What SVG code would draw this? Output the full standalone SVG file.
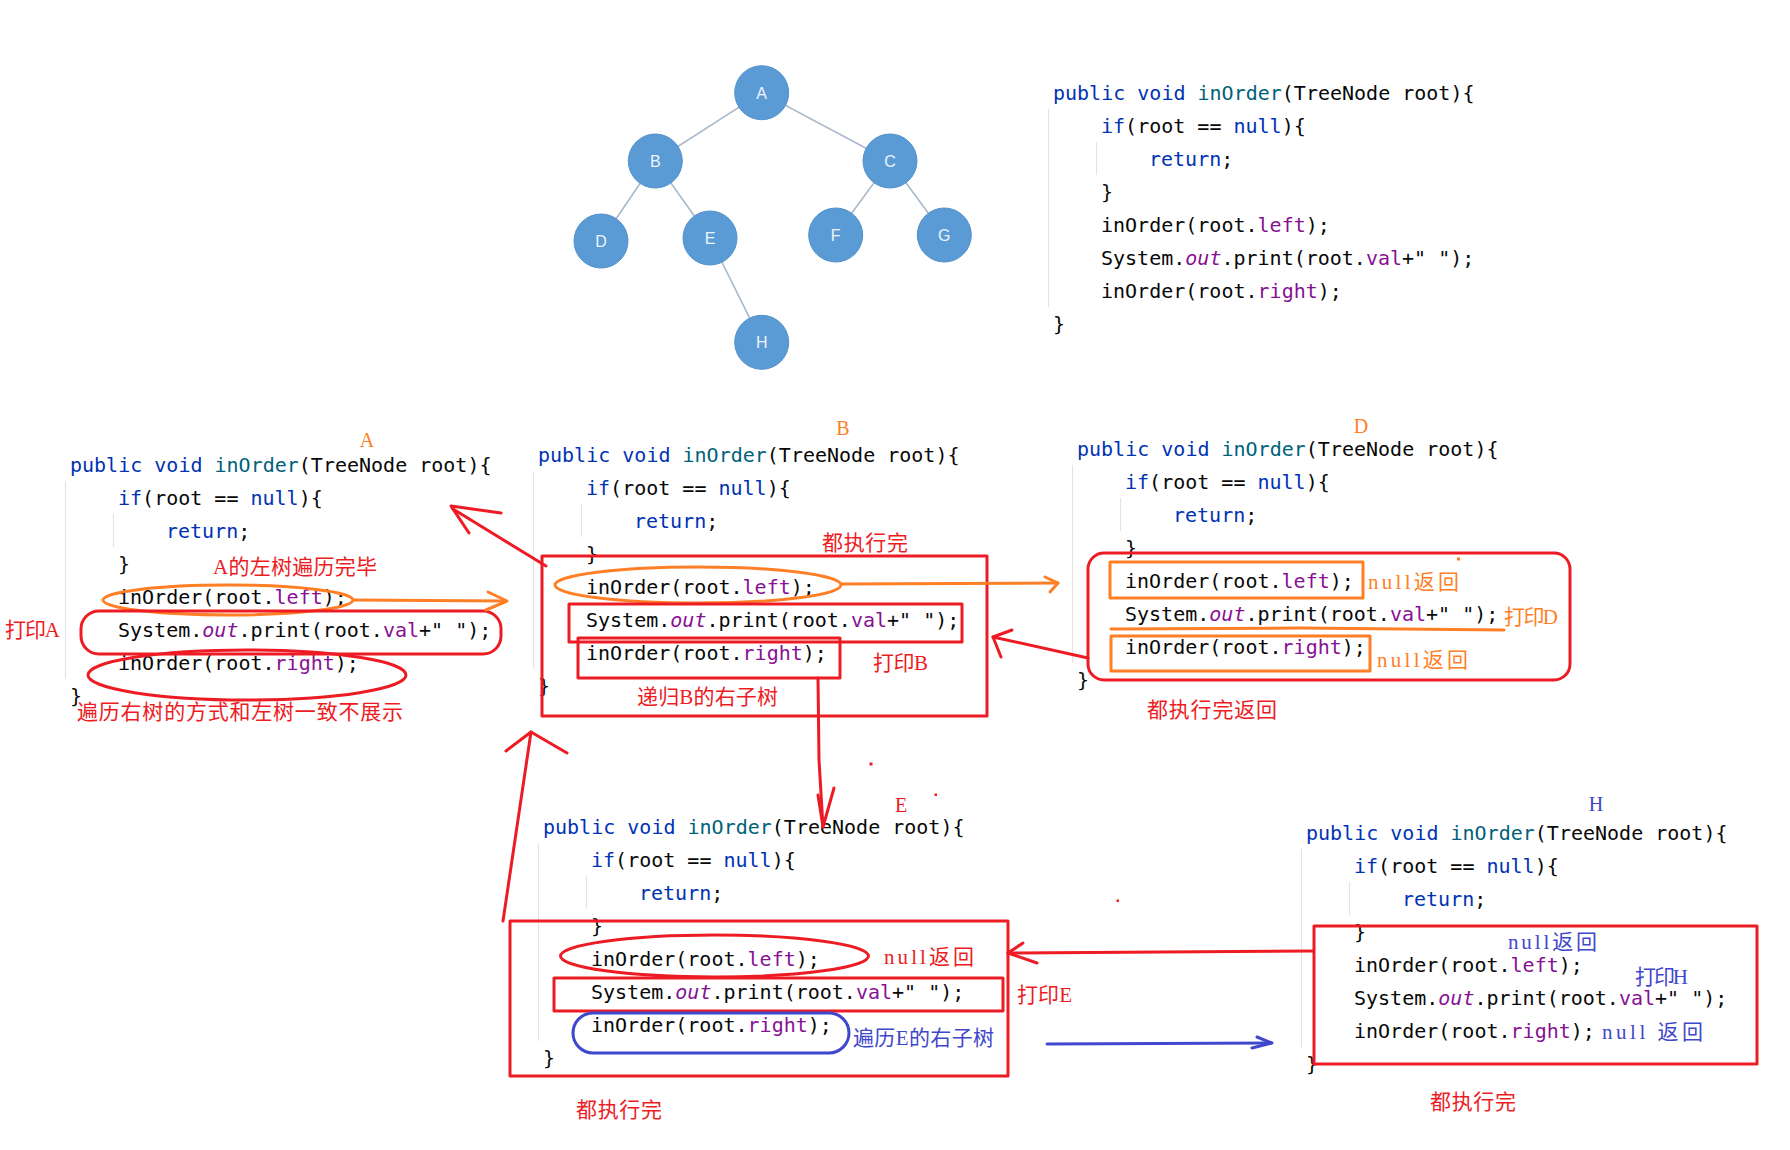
<svg xmlns="http://www.w3.org/2000/svg" width="1790" height="1150" viewBox="0 0 1790 1150">
<style>
.code{font-family:"DejaVu Sans Mono","Liberation Mono",monospace;font-size:20px;fill:#080808}
.kw{fill:#0033B3}.fn{fill:#00627A}.fd{fill:#871094}.it{font-style:italic}
.guide{stroke:#E3E3E3;stroke-width:1.2}
.ann{font-family:"Liberation Serif","Noto Sans CJK SC",serif;font-size:21px}
.lbl{font-family:"Liberation Serif",serif;font-size:20px;text-anchor:middle}
.red{fill:#ED1C24}.org{fill:#FF7F27}.blu{fill:#3F48CC}
.sred{fill:none;stroke:#ED1C24;stroke-width:3;stroke-linecap:round;stroke-linejoin:round}
.sorg{fill:none;stroke:#FF7F27;stroke-width:3;stroke-linecap:round;stroke-linejoin:round}
.sblu{fill:none;stroke:#3F48CC;stroke-width:3;stroke-linecap:round;stroke-linejoin:round}
.node circle{fill:#5B9BD5;stroke:#5290CA;stroke-width:1}
.node text{font-family:"Liberation Sans",sans-serif;font-size:16px;fill:#EEF4FB;text-anchor:middle}
.edge{stroke:#A8B9CB;stroke-width:1.6}
</style>
<rect width="1790" height="1150" fill="#FFFFFF"/>

<!-- tree -->
<g id="tree-edges">
<line class="edge" x1="761.7" y1="92.7" x2="655.3" y2="161"/>
<line class="edge" x1="761.7" y1="92.7" x2="890" y2="161"/>
<line class="edge" x1="655.3" y1="161" x2="601" y2="241"/>
<line class="edge" x1="655.3" y1="161" x2="710" y2="238"/>
<line class="edge" x1="890" y1="161" x2="835.7" y2="235"/>
<line class="edge" x1="890" y1="161" x2="944.3" y2="235"/>
<line class="edge" x1="710" y1="238" x2="761.7" y2="342.3"/>
</g>
<g id="tree-A" class="node"><circle cx="761.7" cy="92.7" r="27"/><text x="761.7" y="98.5">A</text></g>
<g id="tree-B" class="node"><circle cx="655.3" cy="161" r="27"/><text x="655.3" y="166.8">B</text></g>
<g id="tree-C" class="node"><circle cx="890" cy="161" r="27"/><text x="890" y="166.8">C</text></g>
<g id="tree-D" class="node"><circle cx="601" cy="241" r="27"/><text x="601" y="246.8">D</text></g>
<g id="tree-E" class="node"><circle cx="710" cy="238" r="27"/><text x="710" y="243.8">E</text></g>
<g id="tree-F" class="node"><circle cx="835.7" cy="235" r="27"/><text x="835.7" y="240.8">F</text></g>
<g id="tree-G" class="node"><circle cx="944.3" cy="235" r="27"/><text x="944.3" y="240.8">G</text></g>
<g id="tree-H" class="node"><circle cx="761.7" cy="342.3" r="27"/><text x="761.7" y="348.1">H</text></g>

<!-- top code -->
<g id="code-top" class="code" transform="translate(1053,100)">
<line class="guide" x1="-4.5" y1="9" x2="-4.5" y2="207"/>
<line class="guide" x1="43.5" y1="42" x2="43.5" y2="75"/>
<text x="0" y="0"><tspan class="kw">public</tspan> <tspan class="kw">void</tspan> <tspan class="fn">inOrder</tspan>(TreeNode root){</text>
<text x="48" y="33"><tspan class="kw">if</tspan>(root == <tspan class="kw">null</tspan>){</text>
<text x="96" y="66"><tspan class="kw">return</tspan>;</text>
<text x="48" y="99">}</text>
<text x="48" y="132">inOrder(root.<tspan class="fd">left</tspan>);</text>
<text x="48" y="165">System.<tspan class="fd it">out</tspan>.print(root.<tspan class="fd">val</tspan>+" ");</text>
<text x="48" y="198">inOrder(root.<tspan class="fd">right</tspan>);</text>
<text x="0" y="231">}</text>
</g>

<!-- block A -->
<g id="block-A">
<g class="code" transform="translate(70,472)">
<line class="guide" x1="-4.5" y1="9" x2="-4.5" y2="207"/>
<line class="guide" x1="43.5" y1="42" x2="43.5" y2="75"/>
<text x="0" y="0"><tspan class="kw">public</tspan> <tspan class="kw">void</tspan> <tspan class="fn">inOrder</tspan>(TreeNode root){</text>
<text x="48" y="33"><tspan class="kw">if</tspan>(root == <tspan class="kw">null</tspan>){</text>
<text x="96" y="66"><tspan class="kw">return</tspan>;</text>
<text x="48" y="99">}</text>
<text x="48" y="132">inOrder(root.<tspan class="fd">left</tspan>);</text>
<text x="48" y="165">System.<tspan class="fd it">out</tspan>.print(root.<tspan class="fd">val</tspan>+" ");</text>
<text x="48" y="198">inOrder(root.<tspan class="fd">right</tspan>);</text>
<text x="0" y="231">}</text>
</g>
<text class="lbl org" x="367" y="447">A</text>
<text class="ann red" x="213" y="574" textLength="164">A的左树遍历完毕</text>
<ellipse class="sorg" cx="228" cy="600" rx="125" ry="15"/>
<rect class="sred" x="81" y="611" width="420" height="43" rx="18"/>
<ellipse class="sred" cx="247" cy="675" rx="159" ry="25"/>
<text class="ann red" x="5" y="637" textLength="55">打印A</text>
<text class="ann red" x="77" y="719" textLength="326">遍历右树的方式和左树一致不展示</text>
</g>

<!-- block B -->
<g id="block-B">
<g class="code" transform="translate(538,462)">
<line class="guide" x1="-4.5" y1="9" x2="-4.5" y2="207"/>
<line class="guide" x1="43.5" y1="42" x2="43.5" y2="75"/>
<text x="0" y="0"><tspan class="kw">public</tspan> <tspan class="kw">void</tspan> <tspan class="fn">inOrder</tspan>(TreeNode root){</text>
<text x="48" y="33"><tspan class="kw">if</tspan>(root == <tspan class="kw">null</tspan>){</text>
<text x="96" y="66"><tspan class="kw">return</tspan>;</text>
<text x="48" y="99">}</text>
<text x="48" y="132">inOrder(root.<tspan class="fd">left</tspan>);</text>
<text x="48" y="165">System.<tspan class="fd it">out</tspan>.print(root.<tspan class="fd">val</tspan>+" ");</text>
<text x="48" y="198">inOrder(root.<tspan class="fd">right</tspan>);</text>
<text x="0" y="231">}</text>
</g>
<text class="lbl org" x="843" y="435">B</text>
<text class="ann red" x="822" y="550" textLength="86">都执行完</text>
<rect class="sred" x="542" y="556" width="445" height="160"/>
<ellipse class="sorg" cx="698" cy="585" rx="143" ry="18"/>
<rect class="sred" x="569" y="604" width="393" height="38"/>
<rect class="sred" x="578" y="638" width="262" height="40"/>
<text class="ann red" x="873" y="670" textLength="55">打印B</text>
<text class="ann red" x="637" y="704" textLength="141">递归B的右子树</text>
</g>

<!-- block D -->
<g id="block-D">
<g class="code" transform="translate(1077,456)">
<line class="guide" x1="-4.5" y1="9" x2="-4.5" y2="207"/>
<line class="guide" x1="43.5" y1="42" x2="43.5" y2="75"/>
<text x="0" y="0"><tspan class="kw">public</tspan> <tspan class="kw">void</tspan> <tspan class="fn">inOrder</tspan>(TreeNode root){</text>
<text x="48" y="33"><tspan class="kw">if</tspan>(root == <tspan class="kw">null</tspan>){</text>
<text x="96" y="66"><tspan class="kw">return</tspan>;</text>
<text x="48" y="99">}</text>
<text x="48" y="132">inOrder(root.<tspan class="fd">left</tspan>);</text>
<text x="48" y="165">System.<tspan class="fd it">out</tspan>.print(root.<tspan class="fd">val</tspan>+" ");</text>
<text x="48" y="198">inOrder(root.<tspan class="fd">right</tspan>);</text>
<text x="0" y="231">}</text>
</g>
<text class="lbl org" x="1361" y="433">D</text>
<rect class="sred" x="1088" y="553" width="482" height="127" rx="16"/>
<rect class="sorg" x="1110" y="562" width="253" height="36"/>
<text class="ann org" x="1368" y="589" textLength="91">null返回</text>
<path class="sorg" d="M1111,629 L1300,628 L1504,630"/>
<text class="ann org" x="1504" y="624" textLength="54">打印D</text>
<rect class="sorg" x="1111" y="636" width="259" height="35"/>
<text class="ann org" x="1377" y="667" textLength="91">null返回</text>
<text class="ann red" x="1147" y="717" textLength="130">都执行完返回</text>
<rect x="1457" y="557.5" width="3" height="3" fill="#FF7F27"/>
</g>

<!-- block E -->
<g id="block-E">
<g class="code" transform="translate(543,834)">
<line class="guide" x1="-4.5" y1="9" x2="-4.5" y2="207"/>
<line class="guide" x1="43.5" y1="42" x2="43.5" y2="75"/>
<text x="0" y="0"><tspan class="kw">public</tspan> <tspan class="kw">void</tspan> <tspan class="fn">inOrder</tspan>(TreeNode root){</text>
<text x="48" y="33"><tspan class="kw">if</tspan>(root == <tspan class="kw">null</tspan>){</text>
<text x="96" y="66"><tspan class="kw">return</tspan>;</text>
<text x="48" y="99">}</text>
<text x="48" y="132">inOrder(root.<tspan class="fd">left</tspan>);</text>
<text x="48" y="165">System.<tspan class="fd it">out</tspan>.print(root.<tspan class="fd">val</tspan>+" ");</text>
<text x="48" y="198">inOrder(root.<tspan class="fd">right</tspan>);</text>
<text x="0" y="231">}</text>
</g>
<text class="lbl red" x="901" y="812">E</text>
<rect class="sred" x="510" y="921" width="498" height="155"/>
<ellipse class="sred" cx="714.5" cy="956" rx="154" ry="21"/>
<text class="ann red" x="884" y="964" textLength="90">null返回</text>
<rect class="sred" x="554" y="978" width="449" height="33"/>
<text class="ann red" x="1017" y="1002" textLength="55">打印E</text>
<rect class="sblu" x="573" y="1013" width="276" height="40" rx="20"/>
<text class="ann blu" x="853" y="1045" textLength="141">遍历E的右子树</text>
<text class="ann red" x="576" y="1117" textLength="86">都执行完</text>
</g>

<!-- block H -->
<g id="block-H">
<g class="code" transform="translate(1306,840)">
<line class="guide" x1="-4.5" y1="9" x2="-4.5" y2="207"/>
<line class="guide" x1="43.5" y1="42" x2="43.5" y2="75"/>
<text x="0" y="0"><tspan class="kw">public</tspan> <tspan class="kw">void</tspan> <tspan class="fn">inOrder</tspan>(TreeNode root){</text>
<text x="48" y="33"><tspan class="kw">if</tspan>(root == <tspan class="kw">null</tspan>){</text>
<text x="96" y="66"><tspan class="kw">return</tspan>;</text>
<text x="48" y="99">}</text>
<text x="48" y="132">inOrder(root.<tspan class="fd">left</tspan>);</text>
<text x="48" y="165">System.<tspan class="fd it">out</tspan>.print(root.<tspan class="fd">val</tspan>+" ");</text>
<text x="48" y="198">inOrder(root.<tspan class="fd">right</tspan>);</text>
<text x="0" y="231">}</text>
</g>
<text class="lbl blu" x="1596" y="811">H</text>
<rect class="sred" x="1314" y="926" width="443" height="138"/>
<text class="ann blu" x="1508" y="949" textLength="89">null返回</text>
<text class="ann blu" x="1635" y="984" textLength="53">打印H</text>
<text class="ann blu" x="1602" y="1039" textLength="101">null 返回</text>
<text class="ann red" x="1430" y="1109" textLength="86">都执行完</text>
</g>

<!-- connectors -->
<g id="connectors">
<path class="sorg" d="M353,600 L506,601"/>
<path class="sorg" d="M488,592 L507,601 L486,610"/>
<path class="sred" d="M546,566 L453,509"/>
<path class="sred" d="M501,513 L451,506 L469,533"/>
<path class="sorg" d="M841,584 L1058,583"/>
<path class="sorg" d="M1045,577 L1058,583 L1050,592"/>
<path class="sred" d="M1088,658 L993,637"/>
<path class="sred" d="M1012,630 L993,637 L1001,657"/>
<path class="sred" d="M818,678 L819,760 L823,827"/>
<path class="sred" d="M818,795 L823,827 L834,788"/>
<path class="sred" d="M503,921 L531,732"/>
<path class="sred" d="M506,751 L531,732 L567,753"/>
<path class="sred" d="M1313,951 L1008,953"/>
<path class="sred" d="M1023,943 L1008,953 L1037,963"/>
<path class="sblu" d="M1047,1044 L1271,1043"/>
<path class="sblu" d="M1257,1037 L1272,1043 L1252,1048"/>
<rect x="869.5" y="762.5" width="3" height="3" fill="#ED1C24"/>
<rect x="934.5" y="793.5" width="2.5" height="2.5" fill="#ED1C24"/>
<rect x="1116.5" y="899.5" width="2.5" height="2.5" fill="#ED1C24"/>
</g>
</svg>
